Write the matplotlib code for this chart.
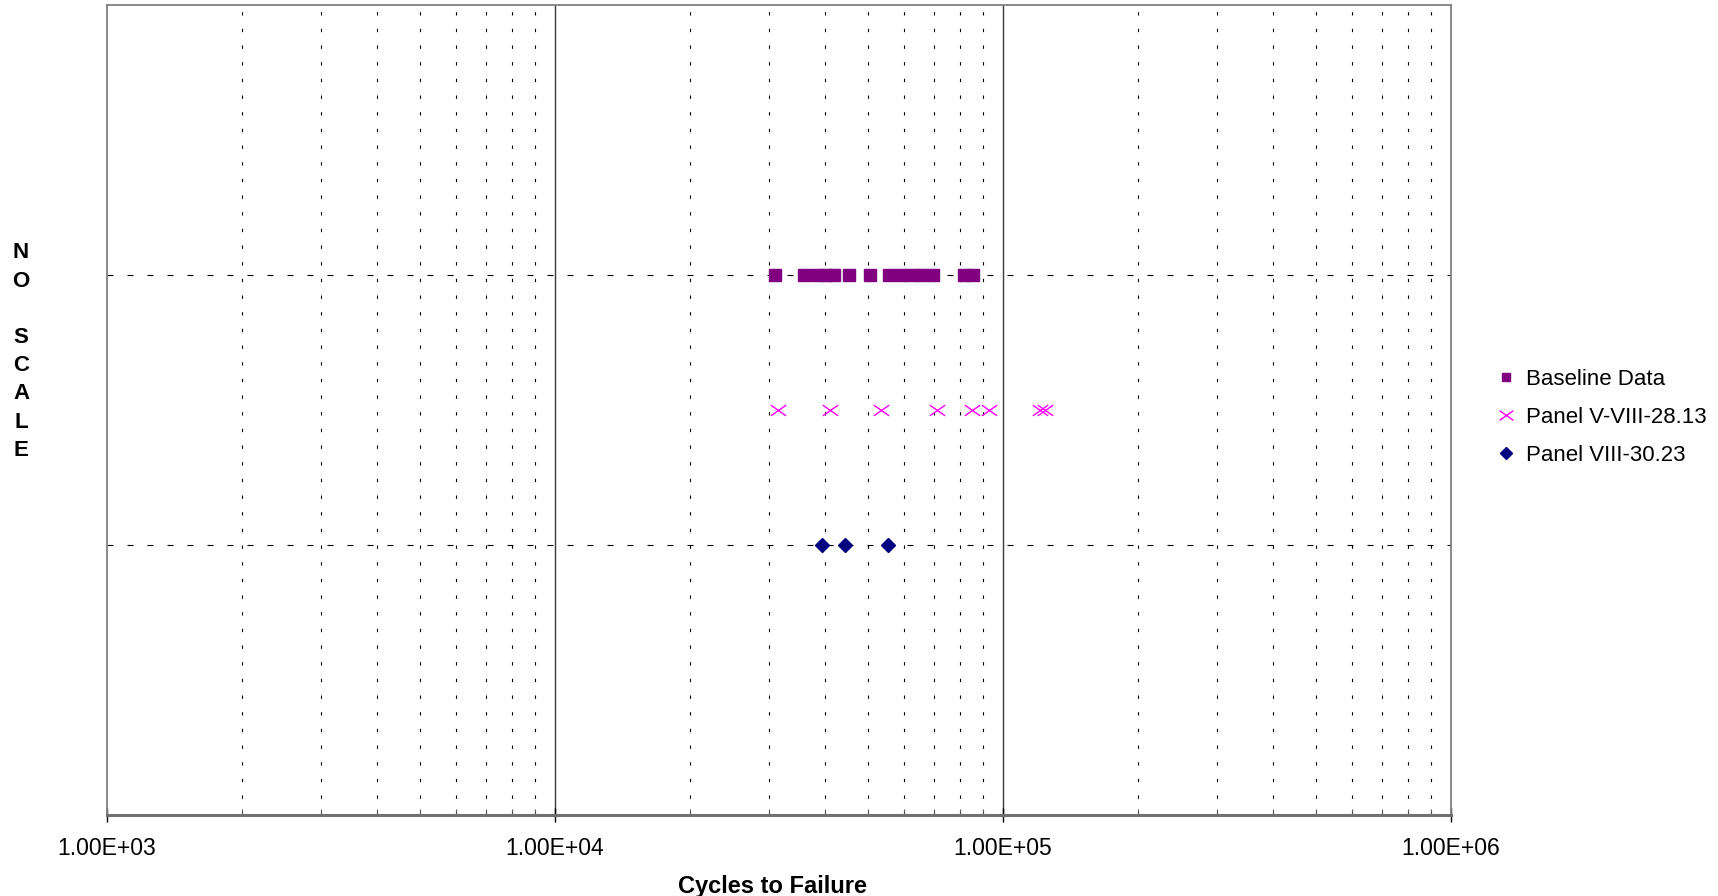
import numpy as np
import matplotlib
matplotlib.use('Agg')
import matplotlib.pyplot as plt
from matplotlib.path import Path
from matplotlib.lines import Line2D
from matplotlib.ticker import FixedLocator, NullFormatter

plt.rcParams['font.family'] = ['Liberation Sans', 'DejaVu Sans']
plt.rcParams['lines.scale_dashes'] = False

# ---- data ----
baseline_cycles = [30900, 36000, 38500, 40200, 42000, 45400, 50400,
                   55800, 59100, 62500, 66100, 69900, 81800, 85700]
panel_v_viii_cycles = [31500, 41000, 53500, 71300, 85300, 93200, 121000, 124000]
panel_viii_cycles = [39500, 44500, 55500]
series_labels = ['Baseline Data', 'Panel V-VIII-28.13', 'Panel VIII-30.23']
series_levels = [2.0, 1.5, 1.0]
x_tick_values = [1e3, 1e4, 1e5, 1e6]
x_tick_labels = ['1.00E+03', '1.00E+04', '1.00E+05', '1.00E+06']

W, H, DPI = 1718, 896, 100
fig = plt.figure(figsize=(W / DPI, H / DPI), dpi=DPI)
ax = fig.add_axes([107 / W, 1 - 814.7 / H, (1451 - 107) / W, (814.7 - 4.7) / H])

ax.set_xscale('log')
ax.set_xlim(1e3, 1e6)
ax.set_ylim(0, 3)

# grid lines
for v in [1e4, 1e5]:
    ax.axvline(v, color='#3a3a3a', lw=1.0, zorder=1)
minor_vals = [m * 10 ** e for e in range(3, 6) for m in range(2, 10)]
for v in minor_vals:
    ax.axvline(v, color='black', lw=0.8, linestyle=(0, (2.4, 9.6)), zorder=1)
for yv in [1.0, 2.0]:
    ax.axhline(yv, color='black', lw=0.8, linestyle=(0, (4.3, 10.1)), zorder=1)

x_marker = Path([(-1, -0.7), (1, 0.7), (-1, 0.7), (1, -0.7)],
                [Path.MOVETO, Path.LINETO, Path.MOVETO, Path.LINETO])

ax.plot(baseline_cycles, [series_levels[0]] * len(baseline_cycles), linestyle='none',
        marker='s', ms=8.6, color='#800080', mec='#800080', zorder=3)
ax.plot(panel_v_viii_cycles, [series_levels[1]] * len(panel_v_viii_cycles), linestyle='none',
        marker=x_marker, ms=11, mew=1.0, color='#FF00FF', zorder=3)
ax.plot(panel_viii_cycles, [series_levels[2]] * len(panel_viii_cycles), linestyle='none',
        marker='D', ms=7.5, color='#000080', mec='#000080', zorder=3)

# ticks
ax.xaxis.set_major_locator(FixedLocator(x_tick_values))
ax.set_xticklabels(x_tick_labels)
ax.xaxis.set_minor_locator(FixedLocator(minor_vals))
ax.xaxis.set_minor_formatter(NullFormatter())
ax.tick_params(axis='x', which='major', direction='inout', length=10, width=1,
               color='black', labelsize=16.5, pad=11)
ax.tick_params(axis='x', which='minor', direction='in', length=4, width=0.8, color='#555555')
ax.set_yticks([])

for s in ['left', 'top', 'right']:
    ax.spines[s].set_color('#808080')
    ax.spines[s].set_linewidth(1.3)
ax.spines['bottom'].set_color('#707070')
ax.spines['bottom'].set_linewidth(2.2)

ax.set_xlabel('Cycles to Failure', fontsize=17, fontweight='bold')
ax.xaxis.label.set_va('center')
ax.xaxis.set_label_coords((773 - 107) / 1344, -(886.5 - 814.7) / 810)

fig.text(21 / W, 1 - 351.5 / H, 'N\nO\n\nS\nC\nA\nL\nE', ha='center', va='center',
         fontsize=16, fontweight='bold', linespacing=1.45)

handles = [
    Line2D([], [], linestyle='none', marker='s', ms=6, color='#800080'),
    Line2D([], [], linestyle='none', marker=x_marker, ms=10, mew=1.0, color='#FF00FF'),
    Line2D([], [], linestyle='none', marker='D', ms=6.5, color='#000080'),
]
leg = fig.legend(handles, series_labels, loc='center left',
                 bbox_to_anchor=(1495 / W, 1 - 417.5 / H), frameon=False,
                 fontsize=16, handlelength=1.0, handletextpad=0.4, labelspacing=0.77,
                 borderpad=0, borderaxespad=0, numpoints=1)

fig.savefig('out.png', dpi=DPI)
